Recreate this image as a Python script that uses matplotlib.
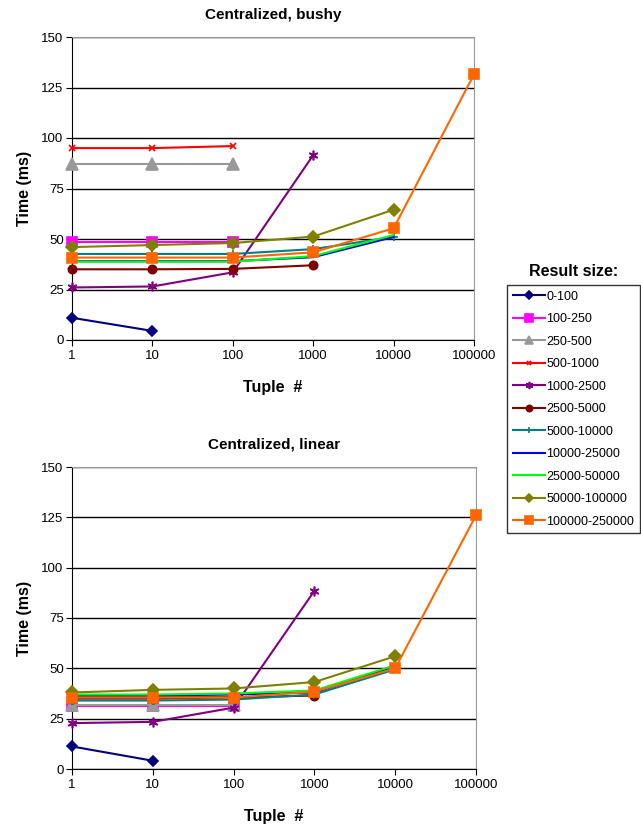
import numpy as np
import matplotlib
matplotlib.use('Agg')
import matplotlib.pyplot as plt
from matplotlib.ticker import FixedLocator, FixedFormatter

plt.rcParams['font.family'] = ['Liberation Sans', 'DejaVu Sans']

tuples = [1, 10, 100, 1000, 10000, 100000]
tick_labels = ['1', '10', '100', '1000', '10000', '100000']

series_names = ['0-100', '100-250', '250-500', '500-1000', '1000-2500', '2500-5000',
                '5000-10000', '10000-25000', '25000-50000', '50000-100000', '100000-250000']

# times (ms) per tuple count, top chart (bushy)
bushy = [
    [11, 4.5],
    [48.5, 48.5, 48.5],
    [87, 87, 87],
    [95, 95, 96],
    [26, 26.5, 33.5, 91.5],
    [35, 35, 35.2, 37],
    [42.6, 42.6, 42.6, 45, 51],
    [39, 39, 39, 41, 51],
    [38.8, 38.8, 38.8, 41.5, 52],
    [46, 47, 48, 51.2, 64.5],
    [40.8, 40.8, 40.8, 43.4, 55.3, 131.5],
]

# times (ms) per tuple count, bottom chart (linear)
linear = [
    [11.2, 4.1],
    [31.5, 31.5, 31.5],
    [32, 32, 32],
    [36, 36, 36],
    [22.8, 23.4, 30.5, 88.5],
    [35, 35, 35.5, 36.5],
    [34, 34, 34.5, 37, 49.5],
    [36.5, 36.5, 37, 38, 51],
    [37, 37, 37.5, 39, 51.5],
    [38, 39.3, 40, 43.2, 56],
    [35.5, 35.5, 35.5, 38.4, 50, 126],
]

colors = ['#000080', '#FF00FF', '#999999', '#FF0000', '#800080', '#800000',
          '#008080', '#0000FF', '#00FF00', '#808000', '#FF6600']
markers = ['D', 's', '^', 'x', (6, 2, 0), 'o', '+', None, None, 'D', 's']
msizes = [5, 7, 8, 4, 7, 6, 6, 0, 0, 6, 7]

fig = plt.figure(figsize=(6.41, 8.34), dpi=100)
W, H = 641, 834


def make_ax(left, top, right, bottom):
    return fig.add_axes([left / W, 1 - bottom / H, (right - left) / W, (bottom - top) / H])


def draw(ax, data, title):
    for i, vals in enumerate(data):
        ax.plot(tuples[:len(vals)], vals, color=colors[i], marker=markers[i],
                markersize=msizes[i], markeredgewidth=1.2, linewidth=1.5,
                label=series_names[i], clip_on=False, zorder=3)
    ax.set_xscale('log')
    ax.set_xlim(1, 100000)
    ax.set_ylim(0, 150)
    ax.set_yticks(np.arange(0, 151, 25))
    ax.xaxis.set_major_locator(FixedLocator(tuples))
    ax.xaxis.set_major_formatter(FixedFormatter(tick_labels))
    ax.xaxis.set_minor_locator(FixedLocator([]))
    ax.yaxis.grid(True, color='black', linewidth=1)
    ax.set_axisbelow(True)
    ax.tick_params(axis='both', labelsize=9.5, direction='out', length=4,
                   color='black')
    ax.tick_params(axis='y', pad=2)
    ax.tick_params(axis='x', pad=3)
    for s in ['top', 'right']:
        ax.spines[s].set_color('#999999')
    ax.set_title(title, fontsize=11, fontweight='bold', pad=13)
    ax.set_xlabel('Tuple  #', fontsize=11.5, fontweight='bold', labelpad=13)
    ax.set_ylabel('Time (ms)', fontsize=11.5, fontweight='bold', labelpad=7)


ax1 = make_ax(72, 37, 474, 340)
draw(ax1, bushy, 'Centralized, bushy')
ax2 = make_ax(72, 467, 476, 769)
draw(ax2, linear, 'Centralized, linear')

handles, labels = ax1.get_legend_handles_labels()
leg = fig.legend(handles, labels, loc='upper left',
                 bbox_to_anchor=(507 / W, 1 - 285 / H), fontsize=9,
                 frameon=True, fancybox=False, edgecolor='black',
                 handlelength=2.6, handletextpad=0.1, labelspacing=0.84,
                 borderpad=0.45, borderaxespad=0, markerscale=0.75)
leg.get_frame().set_linewidth(1)
fig.text(574 / W, 1 - 272 / H, 'Result size:', ha='center', va='center',
         fontsize=11.5, fontweight='bold')

fig.savefig('out.png', dpi=100)
